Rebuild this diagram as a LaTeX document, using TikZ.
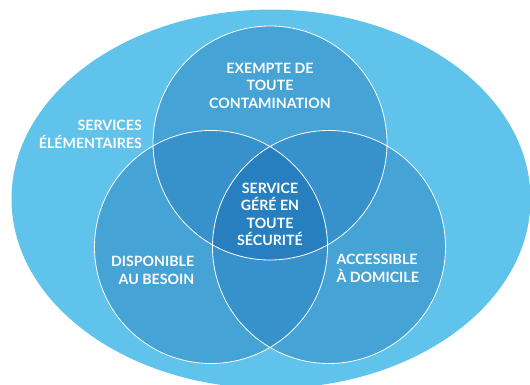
\documentclass[tikz,border=0pt]{standalone}
\usepackage{fontspec}
\setsansfont{Lato}
\usetikzlibrary{positioning}
\definecolor{outerblue}{HTML}{5FC3EC}
\definecolor{oneblue}{HTML}{45A3D6}
\definecolor{twoblue}{HTML}{3791CB}
\definecolor{threeblue}{HTML}{287FC0}
\tikzset{
  ring/.style={draw=white, line width=0.8pt},
  lbl/.style={text=white, inner sep=0pt,
    font=\sffamily\bfseries\fontsize{14.2}{17.5}\selectfont},
}

\begin{document}
\begin{tikzpicture}[x=1pt,y=1pt]
    \useasboundingbox (0,0) rectangle (530,385);
    \coordinate (ct) at (270,242);
    \coordinate (cl) at (211,138);
    \coordinate (cr) at (329,138);
    % fond
    \fill[outerblue] (271,186) ellipse [x radius=259.5, y radius=189.4];
    \fill[oneblue] (ct) circle (117) (cl) circle (116.5) (cr) circle (116.5);
    % intersections
    \begin{scope}
        \clip (ct) circle (117);
        \fill[twoblue] (cl) circle (116.5) (cr) circle (116.5);
    \end{scope}
    \begin{scope}
        \clip (cl) circle (116.5);
        \fill[twoblue] (cr) circle (116.5);
    \end{scope}
    \begin{scope}
        \clip (ct) circle (117);
        \clip (cl) circle (116.5);
        \fill[threeblue] (cr) circle (116.5);
    \end{scope}
    \draw[ring] (ct) circle (117) (cl) circle (116.5) (cr) circle (116.5);
    % textes
    \node (top) [lbl,align=center] at (270,299.5) {EXEMPTE DE\\TOUTE\\CONTAMINATION};
    \node (elem) [lbl,align=right,anchor=east] at (142,250.7) {SERVICES\\ÉLÉMENTAIRES};
    \node (mid) [lbl,align=center] at (270,170.7) {SERVICE\\GÉRÉ EN\\TOUTE\\SÉCURITÉ};
    \node (dispo) [lbl,align=right,anchor=east] at (194.4,114.5) {DISPONIBLE\\AU BESOIN};
    \node (acces) [lbl,align=left,anchor=west] at (336.4,116.6) {ACCESSIBLE\\À DOMICILE};
\end{tikzpicture}
\end{document}
